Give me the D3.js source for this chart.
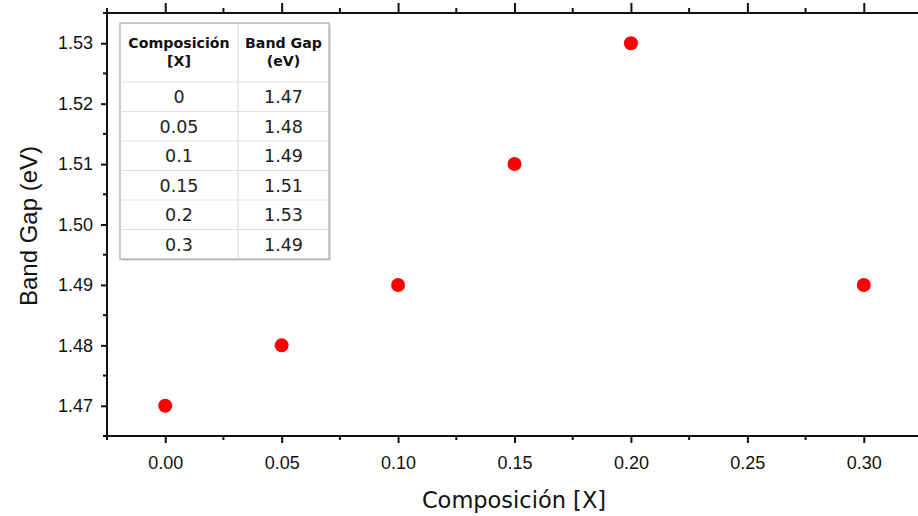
<!DOCTYPE html>
<html>
<head>
<meta charset="utf-8">
<script src="https://cdn.jsdelivr.net/npm/d3@7"></script>
<style>
  html, body { margin: 0; padding: 0; background: #fff; }
  svg { display: block; }
</style>
</head>
<body>
<svg id="chart" width="918" height="516"></svg>
<script>
// Band gap vs. composition
const composition = [0, 0.05, 0.1, 0.15, 0.2, 0.3];
const bandGap = [1.47, 1.48, 1.49, 1.51, 1.53, 1.49];
const compositionLabels = ["0", "0.05", "0.1", "0.15", "0.2", "0.3"];
const bandGapLabels = ["1.47", "1.48", "1.49", "1.51", "1.53", "1.49"];
const tableHeader = [["Composición", "[X]"], ["Band Gap", "(eV)"]];
const xTicks = [0, 0.05, 0.10, 0.15, 0.20, 0.25, 0.30];
const yTicks = [1.47, 1.48, 1.49, 1.50, 1.51, 1.52, 1.53];

(function draw() {
const svg = d3.select("#chart");
const W = 918;
const pLeft = 107, pRight = 922, pTop = 13, pBottom = 436;

const x = d3.scaleLinear().domain([-0.025, 0.325]).range([pLeft, pRight]);
const y = d3.scaleLinear().domain([1.465, 1.535]).range([pBottom, pTop]);

const axisColor = "#111";
const tickFont = "'Liberation Sans', Arial, sans-serif";

// minor tick positions (halfway between majors)
const xMinor = d3.range(-0.025, 0.33, 0.05).map(v => +v.toFixed(3));
const yMinor = d3.range(1.465, 1.536, 0.01).map(v => +v.toFixed(3));

// bottom axis
const xAxis = d3.axisBottom(x).tickValues(xTicks).tickFormat(d3.format(".2f")).tickSize(7).tickPadding(13);
const gx = svg.append("g").attr("transform", `translate(0,${pBottom})`).call(xAxis);
gx.selectAll(".tick line").attr("stroke", axisColor).attr("stroke-width", 2);
gx.select(".domain").remove();
gx.selectAll("text").attr("font-family", tickFont).attr("font-size", 18).attr("fill", "#111");
gx.selectAll(".minor").data(xMinor).enter().append("line")
  .attr("x1", d => x(d)).attr("x2", d => x(d)).attr("y1", 0).attr("y2", 4)
  .attr("stroke", axisColor).attr("stroke-width", 2);

// top axis (mirrored, no labels)
const gt = svg.append("g").attr("transform", `translate(0,${pTop})`)
  .call(d3.axisTop(x).tickValues(xTicks).tickFormat("").tickSize(10));
gt.selectAll(".tick line").attr("stroke", axisColor).attr("stroke-width", 2);
gt.select(".domain").remove();
gt.selectAll(".minor").data(xMinor).enter().append("line")
  .attr("x1", d => x(d)).attr("x2", d => x(d)).attr("y1", 0).attr("y2", -5)
  .attr("stroke", axisColor).attr("stroke-width", 2);

// left axis
const yAxis = d3.axisLeft(y).tickValues(yTicks).tickFormat(d3.format(".2f")).tickSize(6).tickPadding(8);
const gy = svg.append("g").attr("transform", `translate(${pLeft},0)`).call(yAxis);
gy.selectAll(".tick line").attr("stroke", axisColor).attr("stroke-width", 2);
gy.select(".domain").remove();
gy.selectAll("text").attr("font-family", tickFont).attr("font-size", 18).attr("fill", "#111");
gy.selectAll(".minor").data(yMinor).enter().append("line")
  .attr("x1", 0).attr("x2", -4).attr("y1", d => y(d)).attr("y2", d => y(d))
  .attr("stroke", axisColor).attr("stroke-width", 2);

// frame lines
svg.append("line").attr("x1", pLeft - 4).attr("x2", W).attr("y1", pTop).attr("y2", pTop)
  .attr("stroke", axisColor).attr("stroke-width", 2);
svg.append("line").attr("x1", pLeft - 4).attr("x2", W).attr("y1", pBottom).attr("y2", pBottom)
  .attr("stroke", axisColor).attr("stroke-width", 2);
svg.append("line").attr("x1", pLeft).attr("x2", pLeft).attr("y1", pTop - 4).attr("y2", pBottom + 4)
  .attr("stroke", axisColor).attr("stroke-width", 2);

// axis titles
svg.append("text").attr("x", 514).attr("y", 508).attr("text-anchor", "middle")
  .attr("font-family", "'DejaVu Sans', Verdana, sans-serif").attr("font-size", 22.5)
  .attr("fill", "#111").text("Composición [X]");
svg.append("text").attr("transform", "translate(37,226) rotate(-90)").attr("text-anchor", "middle")
  .attr("font-family", tickFont).attr("font-size", 24)
  .attr("fill", "#111").text("Band Gap (eV)");

// data table
const tx0 = 120, tx1 = 238, tx2 = 329;
const ty0 = 23, tyHead = 82, rowH = 29.5;
const tyEnd = tyHead + rowH * composition.length;
const tbl = svg.append("g");
tbl.append("rect").attr("x", tx0 + 2).attr("y", ty0 + 2).attr("width", tx2 - tx0).attr("height", tyEnd - ty0)
  .attr("fill", "#ddd");
tbl.append("rect").attr("x", tx0).attr("y", ty0).attr("width", tx2 - tx0).attr("height", tyEnd - ty0)
  .attr("fill", "#fff").attr("stroke", "#aaa").attr("stroke-width", 1.2);
tbl.append("line").attr("x1", tx1).attr("x2", tx1).attr("y1", ty0).attr("y2", tyEnd)
  .attr("stroke", "#d4d4d4").attr("stroke-width", 1);
tbl.selectAll(".rowline").data(composition).enter().append("line")
  .attr("x1", tx0).attr("x2", tx2)
  .attr("y1", (d, i) => tyHead + i * rowH).attr("y2", (d, i) => tyHead + i * rowH)
  .attr("stroke", "#e0e0e0").attr("stroke-width", 1);

const colCenters = [(tx0 + tx1) / 2, (tx1 + tx2) / 2];
tableHeader.forEach((lines, c) => {
  lines.forEach((t, k) => {
    tbl.append("text").attr("x", colCenters[c]).attr("y", 48 + k * 18).attr("text-anchor", "middle")
      .attr("font-family", "'DejaVu Sans', Verdana, sans-serif").attr("font-weight", "bold")
      .attr("font-size", 14.2).attr("fill", "#111").text(t);
  });
});
const cellFont = "'DejaVu Sans', Verdana, sans-serif";
composition.forEach((d, i) => {
  const cy = tyHead + i * rowH + rowH / 2 + 6.5;
  tbl.append("text").attr("x", colCenters[0]).attr("y", cy).attr("text-anchor", "middle")
    .attr("font-family", cellFont).attr("font-size", 17.5).attr("fill", "#222").text(compositionLabels[i]);
  tbl.append("text").attr("x", colCenters[1]).attr("y", cy).attr("text-anchor", "middle")
    .attr("font-family", cellFont).attr("font-size", 17.5).attr("fill", "#222").text(bandGapLabels[i]);
});

// scatter points
svg.append("g").selectAll("circle").data(composition).enter().append("circle")
  .attr("cx", d => x(d)).attr("cy", (d, i) => y(bandGap[i])).attr("r", 7)
  .attr("fill", "#ff0000");
})();
</script>
</body>
</html>
